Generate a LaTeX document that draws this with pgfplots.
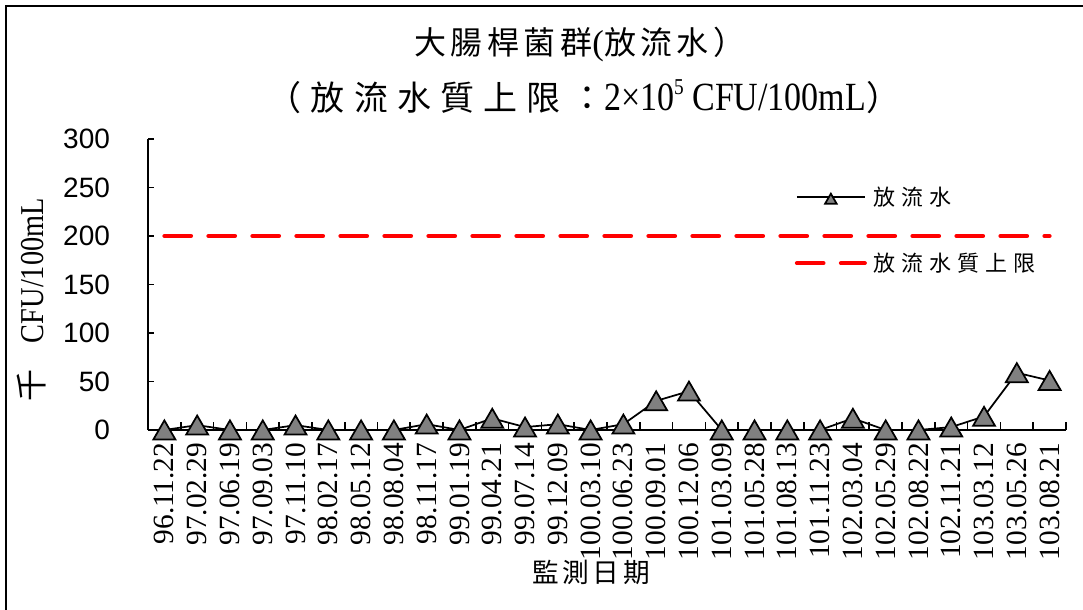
\documentclass[border=0pt]{standalone}
\usepackage{pgfplots}
\pgfplotsset{compat=1.18}
\usepackage{fontspec}
\setmainfont{Liberation Serif}
\newfontfamily\tnr{Liberation Serif}
\newfontfamily\arial{Liberation Sans}
\newfontfamily\cjkt[LetterSpace=14]{Noto Sans CJK TC}
\newfontfamily\cjkw[LetterSpace=27]{Noto Sans CJK TC}
\newfontfamily\narrow[FakeStretch=0.85]{Liberation Serif}
\definecolor{markgray}{RGB}{128,128,128}
\pgfplotsset{
    trilegend/.style={legend image code/.code={
        \draw[mark repeat=2, mark phase=2, ##1, mark size=5pt]
            plot coordinates {(0pt,0pt) (25.5pt,0pt) (51pt,0pt)};}},
    dashlegend/.style={legend image code/.code={\draw[##1] (0pt,0pt) -- (51pt,0pt);}},
}

\begin{document}
\begin{tikzpicture}
\useasboundingbox (0,0) rectangle (812.25pt,457.5pt);  % 1083x610 px at 0.75pt/px
\draw[line width=1.5pt] (4.5pt,-2pt) -- (4.5pt,453pt) -- (815pt,453pt);
\begin{axis}[
    at={(111pt,135pt)}, anchor=south west,
    scale only axis, width=688.5pt, height=218.25pt,
    xmin=-0.5, xmax=27.5, ymin=0, ymax=300,
    axis lines=left, axis line style={-, line width=1.5pt},
    tick align=inside,
    tick style={black, line width=1.2pt},
    major tick length=4.5pt, minor tick length=6pt,
    ytick={0,50,...,300},
    /pgf/number format/assume math mode=true,
    yticklabel style={font=\arial\fontsize{21}{21}\selectfont, xshift=-25pt},
    xtick={0,...,27},
    every major x tick/.append style={draw=none},
    minor xtick={-0.5,0.5,...,27.5},
    xticklabels={96.11.22,97.02.29,97.06.19,97.09.03,97.11.10,98.02.17,98.05.12,98.08.04,98.11.17,99.01.19,99.04.21,99.07.14,99.12.09,100.03.10,100.06.23,100.09.01,100.12.06,101.03.09,101.05.28,101.08.13,101.11.23,102.03.04,102.05.29,102.08.22,102.11.21,103.03.12,103.05.26,103.08.21},
    xticklabel style={yshift=-6pt, rotate=90, anchor=east, font=\tnr\fontsize{22}{22}\selectfont},
    clip=false,
    legend style={at={(0.700,0.845)}, anchor=north west, draw=none, fill=none,
        row sep=34pt, column sep=5pt, nodes={inner sep=0pt},
        font=\cjkw\fontsize{16.5}{16.5}\selectfont},
    legend cell align=left,
]
\addplot[black, line width=1.3pt, mark=triangle*, mark size=9.5pt,
    mark options={fill=markgray, draw=black, line width=1.3pt, yshift=-2.3pt},
    trilegend]
coordinates {
(0,0) (1,5) (2,0) (3,0) (4,5) (5,0) (6,0) (7,0) (8,6) (9,0)
(10,12) (11,3) (12,6) (13,0) (14,6) (15,30) (16,40) (17,0) (18,0) (19,0)
(20,0) (21,12) (22,0) (23,0) (24,3) (25,14) (26,59) (27,51)
};
\addlegendentry{放流水}
\addplot[red, line width=3pt, line cap=round, dash pattern=on 20pt off 13pt, dashlegend]
coordinates {(0,200) (27,200)};
\addlegendentry{放流水質上限}
\end{axis}
% titles and axis names
\node[inner sep=0pt] at (435pt,423.75pt)
    {{\cjkt\fontsize{24}{24}\selectfont 大腸桿菌群}{\fontsize{26}{26}\selectfont(}{\cjkt\fontsize{24}{24}\selectfont 放流水）}};
\node[inner sep=0pt] at (438pt,384.75pt)
    {{\cjkw\fontsize{25.5}{25.5}\selectfont （放流水質上限：}{\narrow\fontsize{30}{30}\selectfont 2×10\raisebox{0.4em}{\fontsize{17}{17}\selectfont 5} CFU/100mL}{\cjkw\fontsize{25.5}{25.5}\selectfont ）}};
\node[inner sep=0pt, rotate=90] at (24pt,232.5pt)
    {{\cjkt\fontsize{24}{24}\selectfont 千}\hspace{20pt}{\narrow\fontsize{25}{25}\selectfont CFU/100mL}};
\node[inner sep=0pt] at (443.25pt,28.5pt) {\cjkt\fontsize{20}{20}\selectfont 監測日期};
\end{tikzpicture}
\end{document}
